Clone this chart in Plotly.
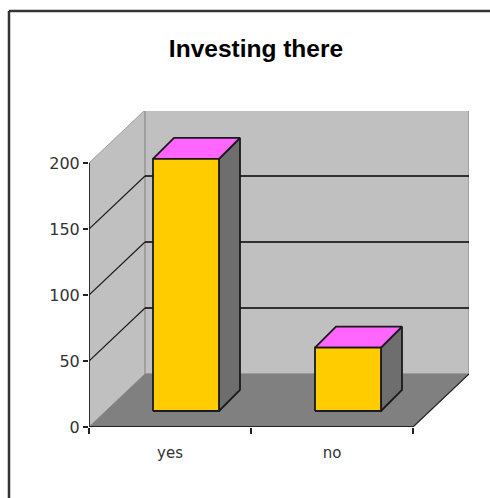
import plotly.graph_objects as go

categories = ["yes", "no"]
values = [191, 48]
y_ticks = [0, 50, 100, 150, 200]
title = "Investing there"

# Oblique projection: pixels per unit, wall depth in px
W, H = 490, 498
PX_CAT, PX_VAL = 162.0, 1.32
L, T, R, B = 89, 111, 469, 427
DEPTH = 56 / PX_CAT, 53 / PX_VAL
BAR_LIFT = 16 / PX_VAL
BAR_DEPTH = 21 / PX_CAT, 21 / PX_VAL
BAR_W = 66 / PX_CAT
BAR_OFFSET = 64 / PX_CAT
X_MAX, Y_MAX = len(categories), y_ticks[-1]

WALL, FLOOR, SIDE, TOPC, FRONT = "#C0C0C0", "#808080", "#6E6E6E", "#FF66FF", "#FFCC00"
DARK = "#1a1a1a"

fig = go.Figure()

def poly(xs, ys, fill, line=DARK, width=1.8):
    fig.add_trace(go.Scatter(x=xs + xs[:1], y=ys + ys[:1], mode="lines", fill="toself",
                             fillcolor=fill, line=dict(color=line, width=width),
                             hoverinfo="skip", showlegend=False))

def seg(xs, ys, color=DARK, width=1.5):
    fig.add_trace(go.Scatter(x=xs, y=ys, mode="lines", line=dict(color=color, width=width),
                             hoverinfo="skip", showlegend=False))

dx, dy = DEPTH
# left wall, back wall, floor
poly([0, dx, dx, 0], [0, dy, Y_MAX + dy, Y_MAX], WALL, "#A0A0A0", 1)
poly([dx, X_MAX + dx, X_MAX + dx, dx], [dy, dy, Y_MAX + dy, Y_MAX + dy], WALL, "#989898", 1.5)
poly([0, X_MAX, X_MAX + dx, dx], [0, 0, dy, dy], FLOOR, FLOOR, 0.5)

# gridlines on left and back walls
for v in y_ticks[1:-1]:
    seg([0, dx], [v, v + dy], DARK, 1.1)
    seg([dx, X_MAX + dx], [v + dy, v + dy], "#000000", 1.6)

# bars
for i, v in enumerate(values):
    x0 = i + BAR_OFFSET
    x1 = x0 + BAR_W
    y0 = BAR_LIFT
    y1 = y0 + v
    bx, by = BAR_DEPTH
    poly([x1, x1 + bx, x1 + bx, x1], [y0, y0 + by, y1 + by, y1], SIDE)
    poly([x0, x1, x1 + bx, x0 + bx], [y1, y1, y1 + by, y1 + by], TOPC)
    poly([x0, x1, x1, x0], [y0, y0, y1, y1], FRONT)

# front axes
seg([0, 0], [0, Y_MAX], "#222222", 1.8)
seg([0, X_MAX], [0, 0], "#222222", 1.8)
seg([X_MAX, X_MAX + dx], [0, dy], "#222222", 1.2)

PW, PH = R - L, B - T
def px(x): return (x - L) / PW
def py(y): return (B - y) / PH

fig.update_layout(
    width=W, height=H,
    margin=dict(l=L, r=W - R, t=T, b=H - B),
    paper_bgcolor="white", plot_bgcolor="white",
    showlegend=False,
    title=dict(text="<b>" + title + "</b>", x=256 / W, xanchor="center",
               y=1 - 48 / H, yanchor="middle",
               font=dict(family="Liberation Sans", size=24.5, color="#000000")),
    font=dict(family="DejaVu Sans", size=15, color="#333333"),
    xaxis=dict(range=[0, PW / PX_CAT], tickmode="array",
               tickvals=[i + 0.5 for i in range(len(categories))], ticktext=categories,
               ticks="", showgrid=False, zeroline=False, showline=False, ticklabelstandoff=15,
               tickfont=dict(size=15),
               minor=dict(tickmode="array", tickvals=list(range(X_MAX + 1)), ticks="outside",
                          ticklen=6, tickwidth=1.5, tickcolor="#222222", showgrid=False)),
    yaxis=dict(range=[0, PH / PX_VAL], tickmode="array", tickvals=y_ticks,
               ticks="outside", ticklen=5, tickwidth=1.5, tickcolor="#222222",
               showgrid=False, zeroline=False, showline=False, ticklabelstandoff=0,
               tickfont=dict(size=16)),
    shapes=[
        dict(type="line", xref="paper", yref="paper", x0=px(9), x1=px(9), y0=py(H), y1=py(11),
             line=dict(color="#333333", width=2.5)),
        dict(type="line", xref="paper", yref="paper", x0=px(9), x1=px(W), y0=py(11), y1=py(11),
             line=dict(color="#333333", width=2.5)),
    ],
)
fig.write_html("out.html", post_script="document.body.style.margin='0';",
               config=dict(displayModeBar=False))
